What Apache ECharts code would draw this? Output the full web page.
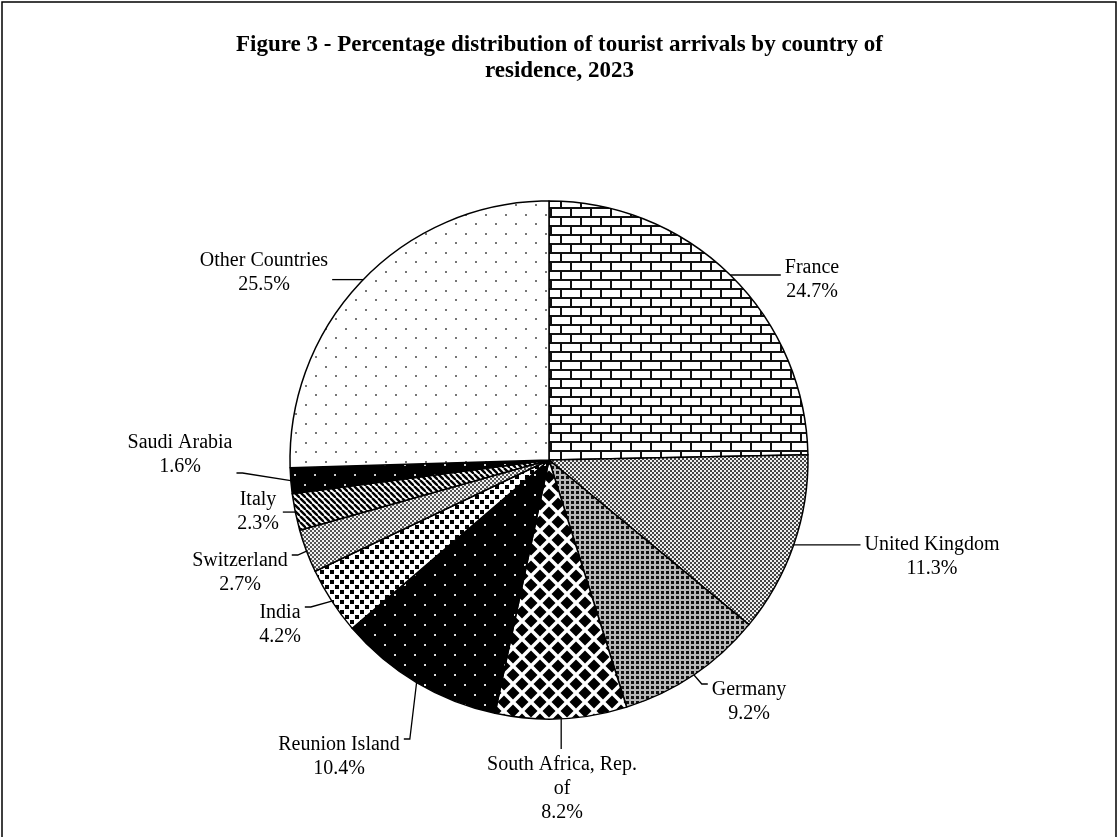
<!DOCTYPE html>
<html>
<head>
<meta charset="utf-8">
<script src="https://cdn.jsdelivr.net/npm/echarts@6/dist/echarts.min.js"></script>
<style>
  html, body { margin: 0; padding: 0; background: #fff; }
  #main { width: 1119px; height: 837px; }
</style>
</head>
<body>
<div id="main"></div>
<script>
// data (clockwise from 12 o'clock)
const countries = ['France', 'United Kingdom', 'Germany', 'South Africa, Rep. of', 'Reunion Island',
  'India', 'Switzerland', 'Italy', 'Saudi Arabia', 'Other Countries'];
const shares = [24.7, 11.3, 9.2, 8.2, 10.4, 4.2, 2.7, 2.3, 1.6, 25.5];
const titleText = 'Figure 3 - Percentage distribution of tourist arrivals by country of\nresidence, 2023';

// where each data label sits (centre of the text block), px
const labelAnchor = [
  [812, 280], [932, 557], [749, 702], [562, 789], [339, 757],
  [280, 625], [240, 573], [258, 512], [180, 455], [264, 273]
];

// little canvas tiles for the black & white hatch fills
function tile(w, h, paint) {
  const c = document.createElement('canvas');
  c.width = w; c.height = h;
  const g = c.getContext('2d');
  paint(g, w, h);
  return { image: c, repeat: 'repeat' };
}
function dots(g, w, h, bg, fg, pts, s) {
  g.fillStyle = bg; g.fillRect(0, 0, w, h);
  g.fillStyle = fg;
  pts.forEach(p => g.fillRect(p[0], p[1], s, s));
}

const fills = [
  // brick
  tile(20, 18, (g) => {
    g.fillStyle = '#fff'; g.fillRect(0, 0, 20, 18);
    g.fillStyle = '#111';
    g.fillRect(0, 0, 20, 2); g.fillRect(0, 9, 20, 2);
    g.fillRect(0, 0, 2, 9); g.fillRect(10, 9, 2, 9);
  }),
  // fine light checker
  tile(4, 4, (g) => dots(g, 4, 4, '#eeeeee', '#444', [[0, 0], [2, 2]], 2)),
  // dark checker
  tile(5, 5, (g) => dots(g, 5, 5, '#b8b8b8', '#111', [[1, 1]], 3)),
  // big diamonds
  tile(18, 18, (g) => {
    g.fillStyle = '#fff'; g.fillRect(0, 0, 18, 18);
    g.fillStyle = '#000';
    [[0, 0], [18, 0], [0, 18], [18, 18], [9, 9]].forEach(p => {
      g.beginPath();
      g.moveTo(p[0], p[1] - 6.5); g.lineTo(p[0] + 6.5, p[1]);
      g.lineTo(p[0], p[1] + 6.5); g.lineTo(p[0] - 6.5, p[1]);
      g.closePath(); g.fill();
    });
  }),
  // black with white dots
  tile(20, 20, (g) => dots(g, 20, 20, '#000', '#ddd', [[4, 4], [14, 14]], 2)),
  // medium squares
  tile(10, 10, (g) => dots(g, 10, 10, '#fff', '#000', [[0, 0], [5, 5]], 4)),
  // light checker
  tile(4, 4, (g) => dots(g, 4, 4, '#f2f2f2', '#555', [[0, 0], [2, 2]], 2)),
  // diagonal stripes
  tile(6, 6, (g) => {
    g.fillStyle = '#fff'; g.fillRect(0, 0, 6, 6);
    g.strokeStyle = '#000'; g.lineWidth = 2.4;
    [-6, 0, 6].forEach(k => { g.beginPath(); g.moveTo(k, 0); g.lineTo(k + 6, 6); g.stroke(); });
  }),
  // black with white dots, denser
  tile(20, 20, (g) => dots(g, 20, 20, '#000', '#ccc', [[4, 4], [14, 14]], 2)),
  // sparse grey dots
  tile(20, 19, (g) => dots(g, 20, 19, '#fff', '#777', [[5, 5], [15, 14]], 2))
];

const seriesData = countries.map((name, i) => ({
  name: name,
  value: shares[i],
  itemStyle: { color: fills[i] }
}));

const chart = echarts.init(document.getElementById('main'), null, { renderer: 'canvas' });

chart.setOption({
  animation: false,
  backgroundColor: '#fff',
  title: {
    text: titleText,
    left: 'center',
    top: 27,
    textStyle: {
      fontFamily: 'Liberation Serif',
      fontWeight: 'bold',
      fontSize: 23,
      lineHeight: 26,
      color: '#000'
    }
  },
  graphic: [{
    type: 'rect',
    shape: { x: 2, y: 2, width: 1114, height: 840 },
    style: { fill: 'none', stroke: '#000', lineWidth: 1.5 },
    silent: true
  }],
  series: [{
    type: 'pie',
    center: [549, 460],
    radius: 259,
    startAngle: 90,
    clockwise: true,
    avoidLabelOverlap: false,
    silent: true,
    data: seriesData,
    itemStyle: { borderColor: '#000', borderWidth: 1.5 },
    emphasis: { disabled: true },
    label: {
      show: true,
      position: 'outside',
      fontFamily: 'Liberation Serif',
      fontSize: 20,
      lineHeight: 24,
      color: '#000',
      align: 'center',
      formatter: (p) => p.name.replace(', Rep. of', ', Rep.\nof') + '\n' + p.value.toFixed(1) + '%'
    },
    labelLine: {
      show: true,
      length: 10,
      length2: 10,
      lineStyle: { color: '#000', width: 1.3 }
    },
    labelLayout: function (params) {
      const i = params.dataIndex;
      const a = labelAnchor[i];
      const w = params.labelRect.width, h = params.labelRect.height;
      const p0 = params.labelLinePoints ? params.labelLinePoints[0] : a;
      const pad = 4;
      const L = a[0] - w / 2 - pad, R = a[0] + w / 2 + pad;
      const T = a[1] - h / 2 - pad, B = a[1] + h / 2 + pad;
      let pts;
      if (p0[0] < L || p0[0] > R) {
        const ex = p0[0] < L ? L : R;
        const ey = Math.min(Math.max(p0[1], T + 10), B - 10);
        const dir = p0[0] < L ? -1 : 1;
        pts = [p0, [ex + dir * 6, ey], [ex, ey]];
      } else {
        const ey = p0[1] < T ? T : B;
        pts = [p0, [p0[0], (p0[1] + ey) / 2], [p0[0], ey]];
      }
      return {
        x: a[0],
        y: a[1],
        align: 'center',
        verticalAlign: 'middle',
        labelLinePoints: pts
      };
    }
  }]
});
</script>
</body>
</html>
